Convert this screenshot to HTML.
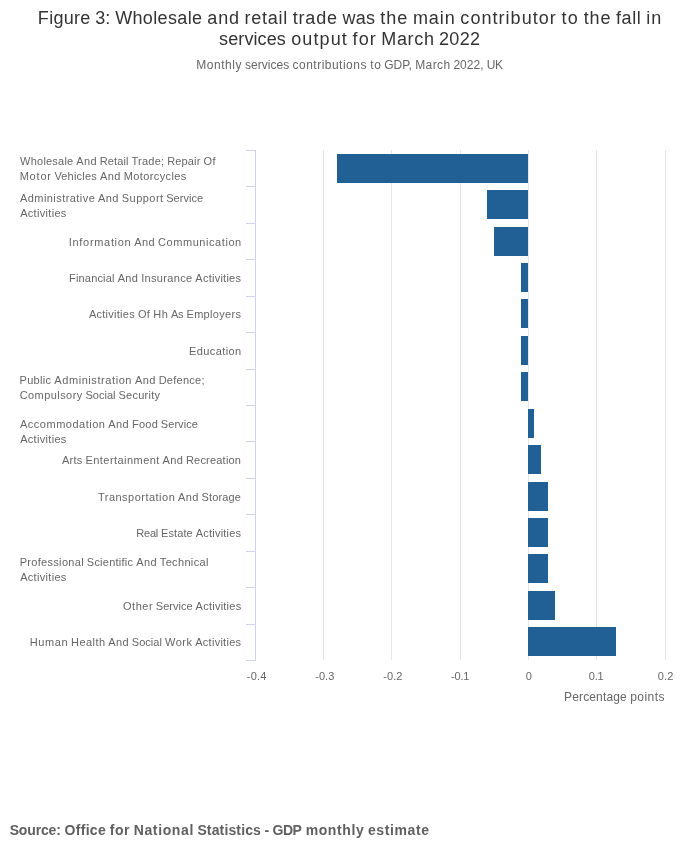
<!DOCTYPE html>
<html lang="en"><head><meta charset="utf-8"><title>Figure 3: Wholesale and retail trade was the main contributor to the fall in services output for March 2022</title>
<style>
html,body{margin:0;padding:0;background:#fff;}
body{width:700px;height:857px;overflow:hidden;}
svg{display:block;font-family:"Liberation Sans",Arial,sans-serif;}
text{white-space:pre;}
</style></head><body>
<svg width="700" height="857" viewBox="0 0 700 857">
<rect x="0" y="0" width="700" height="857" fill="#ffffff"/>
<g stroke="#e6e6e6" stroke-width="1" shape-rendering="crispEdges">
<line x1="323.5" y1="150" x2="323.5" y2="660"/>
<line x1="391.5" y1="150" x2="391.5" y2="660"/>
<line x1="460.5" y1="150" x2="460.5" y2="660"/>
<line x1="528.5" y1="150" x2="528.5" y2="660"/>
<line x1="596.5" y1="150" x2="596.5" y2="660"/>
<line x1="665.5" y1="150" x2="665.5" y2="660"/>
</g>
<g stroke="#ccd6eb" stroke-width="1" shape-rendering="crispEdges">
<line x1="255.5" y1="150" x2="255.5" y2="661"/>
<line x1="246" y1="150.5" x2="256" y2="150.5"/>
<line x1="246" y1="186.5" x2="256" y2="186.5"/>
<line x1="246" y1="223.5" x2="256" y2="223.5"/>
<line x1="246" y1="259.5" x2="256" y2="259.5"/>
<line x1="246" y1="296.5" x2="256" y2="296.5"/>
<line x1="246" y1="332.5" x2="256" y2="332.5"/>
<line x1="246" y1="369.5" x2="256" y2="369.5"/>
<line x1="246" y1="405.5" x2="256" y2="405.5"/>
<line x1="246" y1="441.5" x2="256" y2="441.5"/>
<line x1="246" y1="478.5" x2="256" y2="478.5"/>
<line x1="246" y1="514.5" x2="256" y2="514.5"/>
<line x1="246" y1="551.5" x2="256" y2="551.5"/>
<line x1="246" y1="587.5" x2="256" y2="587.5"/>
<line x1="246" y1="624.5" x2="256" y2="624.5"/>
<line x1="246" y1="660.5" x2="256" y2="660.5"/>
</g>
<g fill="#206095" shape-rendering="crispEdges">
<rect x="337" y="154" width="191" height="29"/>
<rect x="487" y="190" width="41" height="29"/>
<rect x="494" y="227" width="34" height="29"/>
<rect x="521" y="263" width="7" height="29"/>
<rect x="521" y="299" width="7" height="29"/>
<rect x="521" y="336" width="7" height="29"/>
<rect x="521" y="372" width="7" height="29"/>
<rect x="528" y="409" width="6" height="29"/>
<rect x="528" y="445" width="13" height="29"/>
<rect x="528" y="482" width="20" height="29"/>
<rect x="528" y="518" width="20" height="29"/>
<rect x="528" y="554" width="20" height="29"/>
<rect x="528" y="591" width="27" height="29"/>
<rect x="528" y="627" width="88" height="29"/>
</g>
<g>
<text id="t1" y="24" font-size="18" fill="#333333"><tspan x="37.87" letter-spacing="0.271">Figure </tspan><tspan x="95.14" letter-spacing="0.085">3: </tspan><tspan x="115.16" letter-spacing="0.359">Wholesale </tspan><tspan x="207.36" letter-spacing="0.787">and </tspan><tspan x="244.44" letter-spacing="0.735">retail </tspan><tspan x="292.64" letter-spacing="0.870">trade </tspan><tspan x="342.44" letter-spacing="0.288">was </tspan><tspan x="380.35" letter-spacing="0.943">the </tspan><tspan x="412.90" letter-spacing="0.921">main </tspan><tspan x="460.36" letter-spacing="1.038">contributor </tspan><tspan x="561.61" letter-spacing="1.206">to </tspan><tspan x="583.63" letter-spacing="0.943">the </tspan><tspan x="616.02" letter-spacing="0.600">fall </tspan><tspan x="646.29" letter-spacing="0.869">in</tspan></text>
<text id="t2" y="45" font-size="18" fill="#333333"><tspan x="219.06" letter-spacing="0.114">services </tspan><tspan x="291.15" letter-spacing="1.125">output </tspan><tspan x="352.60" letter-spacing="1.083">for </tspan><tspan x="381.31" letter-spacing="0.650">March </tspan><tspan x="439.05" letter-spacing="0.291">2022</tspan></text>
<text id="st" y="69" font-size="12" fill="#666666"><tspan x="196.27" letter-spacing="0.536">Monthly </tspan><tspan x="244.89" letter-spacing="0.041">services </tspan><tspan x="292.53" letter-spacing="0.489">contributions </tspan><tspan x="370.14" letter-spacing="0.708">to </tspan><tspan x="384.28" letter-spacing="-0.050">GDP, </tspan><tspan x="415.19" letter-spacing="0.385">March </tspan><tspan x="453.39" letter-spacing="0.069">2022, </tspan><tspan x="486.64" letter-spacing="-0.330">UK</tspan></text>
<text id="l0a" y="165" font-size="11" fill="#666666"><tspan x="20.11" letter-spacing="0.216">Wholesale </tspan><tspan x="76.33" letter-spacing="0.357">And </tspan><tspan x="99.73" letter-spacing="0.118">Retail </tspan><tspan x="131.50" letter-spacing="0.234">Trade; </tspan><tspan x="167.13" letter-spacing="0.167">Repair </tspan><tspan x="203.51" letter-spacing="0.379">Of</tspan></text>
<text id="l0b" y="180" font-size="11" fill="#666666"><tspan x="19.63" letter-spacing="0.807">Motor </tspan><tspan x="54.39" letter-spacing="0.195">Vehicles </tspan><tspan x="99.94" letter-spacing="0.424">And </tspan><tspan x="123.68" letter-spacing="0.392">Motorcycles</tspan></text>
<text id="l1a" y="202" font-size="11" fill="#666666"><tspan x="19.97" letter-spacing="0.443">Administrative </tspan><tspan x="98.10" letter-spacing="0.381">And </tspan><tspan x="121.75" letter-spacing="0.470">Support </tspan><tspan x="166.23" letter-spacing="0.032">Service</tspan></text>
<text id="l1b" y="217" font-size="11" fill="#666666"><tspan x="20.15" letter-spacing="0.308">Activities</tspan></text>
<text id="l2" y="246" font-size="11" fill="#666666"><tspan x="68.82" letter-spacing="0.682">Information </tspan><tspan x="134.15" letter-spacing="0.458">And </tspan><tspan x="158.07" letter-spacing="0.559">Communication</tspan></text>
<text id="l3" y="282" font-size="11" fill="#666666"><tspan x="69.07" letter-spacing="0.173">Financial </tspan><tspan x="117.65" letter-spacing="0.381">And </tspan><tspan x="141.21" letter-spacing="0.330">Insurance </tspan><tspan x="195.33" letter-spacing="0.251">Activities</tspan></text>
<text id="l4" y="318" font-size="11" fill="#666666"><tspan x="88.88" letter-spacing="0.264">Activities </tspan><tspan x="137.89" letter-spacing="0.427">Of </tspan><tspan x="153.31" letter-spacing="0.518">Hh </tspan><tspan x="170.93" letter-spacing="-0.214">As </tspan><tspan x="186.49" letter-spacing="0.306">Employers</tspan></text>
<text id="l5" y="355" font-size="11" fill="#666666"><tspan x="188.92" letter-spacing="0.417">Education</tspan></text>
<text id="l6a" y="384" font-size="11" fill="#666666"><tspan x="19.62" letter-spacing="0.277">Public </tspan><tspan x="54.30" letter-spacing="0.575">Administration </tspan><tspan x="134.90" letter-spacing="0.448">And </tspan><tspan x="158.63" letter-spacing="0.268">Defence;</tspan></text>
<text id="l6b" y="399" font-size="11" fill="#666666"><tspan x="19.70" letter-spacing="0.430">Compulsory </tspan><tspan x="85.38" letter-spacing="0.027">Social </tspan><tspan x="118.52" letter-spacing="0.242">Security</tspan></text>
<text id="l7a" y="428" font-size="11" fill="#666666"><tspan x="20.00" letter-spacing="0.507">Accommodation </tspan><tspan x="108.32" letter-spacing="0.411">And </tspan><tspan x="131.94" letter-spacing="0.257">Food </tspan><tspan x="160.84" letter-spacing="0.055">Service</tspan></text>
<text id="l7b" y="443" font-size="11" fill="#666666"><tspan x="20.15" letter-spacing="0.308">Activities</tspan></text>
<text id="l8" y="464" font-size="11" fill="#666666"><tspan x="61.89" letter-spacing="0.283">Arts </tspan><tspan x="85.52" letter-spacing="0.447">Entertainment </tspan><tspan x="162.60" letter-spacing="0.309">And </tspan><tspan x="185.91" letter-spacing="0.208">Recreation</tspan></text>
<text id="l9" y="501" font-size="11" fill="#666666"><tspan x="97.99" letter-spacing="0.481">Transportation </tspan><tspan x="178.06" letter-spacing="0.352">And </tspan><tspan x="201.47" letter-spacing="0.166">Storage</tspan></text>
<text id="l10" y="537" font-size="11" fill="#666666"><tspan x="136.16" letter-spacing="-0.162">Real </tspan><tspan x="161.12" letter-spacing="0.080">Estate </tspan><tspan x="195.72" letter-spacing="0.216">Activities</tspan></text>
<text id="l11a" y="566" font-size="11" fill="#666666"><tspan x="19.64" letter-spacing="0.315">Professional </tspan><tspan x="86.82" letter-spacing="0.230">Scientific </tspan><tspan x="136.13" letter-spacing="0.422">And </tspan><tspan x="159.83" letter-spacing="0.334">Technical</tspan></text>
<text id="l11b" y="581" font-size="11" fill="#666666"><tspan x="20.15" letter-spacing="0.308">Activities</tspan></text>
<text id="l12" y="610" font-size="11" fill="#666666"><tspan x="123.01" letter-spacing="0.537">Other </tspan><tspan x="155.83" letter-spacing="0.016">Service </tspan><tspan x="195.61" letter-spacing="0.236">Activities</tspan></text>
<text id="l13" y="646" font-size="11" fill="#666666"><tspan x="29.79" letter-spacing="0.607">Human </tspan><tspan x="71.09" letter-spacing="0.432">Health </tspan><tspan x="108.35" letter-spacing="0.393">And </tspan><tspan x="131.81" letter-spacing="0.018">Social </tspan><tspan x="165.00" letter-spacing="0.509">Work </tspan><tspan x="195.26" letter-spacing="0.263">Activities</tspan></text>
<text id="x0" y="680" font-size="11" fill="#666666"><tspan x="246.84" letter-spacing="0.217">-0.4</tspan></text>
<text id="x1" y="680" font-size="11" fill="#666666"><tspan x="315.26" letter-spacing="0.025">-0.3</tspan></text>
<text id="x2" y="680" font-size="11" fill="#666666"><tspan x="383.27" letter-spacing="0.051">-0.2</tspan></text>
<text id="x3" y="680" font-size="11" fill="#666666"><tspan x="450.95" letter-spacing="-0.135">-0.1</tspan></text>
<text id="x4" y="680" font-size="11" fill="#666666"><tspan x="525.67" letter-spacing="3.290">0</tspan></text>
<text id="x5" y="680" font-size="11" fill="#666666"><tspan x="588.87" letter-spacing="-0.327">0.1</tspan></text>
<text id="x6" y="680" font-size="11" fill="#666666"><tspan x="657.82" letter-spacing="0.166">0.2</tspan></text>
<text id="pp" y="701" font-size="12" fill="#666666"><tspan x="564.07" letter-spacing="0.142">Percentage </tspan><tspan x="630.16" letter-spacing="0.478">points</tspan></text>
<text id="src" y="835" font-size="14" fill="#606060" font-weight="bold"><tspan x="9.68" letter-spacing="-0.154">Source: </tspan><tspan x="64.55" letter-spacing="0.292">Office </tspan><tspan x="109.72" letter-spacing="0.546">for </tspan><tspan x="133.67" letter-spacing="0.642">National </tspan><tspan x="197.39" letter-spacing="0.138">Statistics </tspan><tspan x="264.46" letter-spacing="-0.188">- </tspan><tspan x="272.43" letter-spacing="-0.417">GDP </tspan><tspan x="305.63" letter-spacing="0.610">monthly </tspan><tspan x="367.96" letter-spacing="0.614">estimate</tspan></text>
</g>
</svg></body></html>
